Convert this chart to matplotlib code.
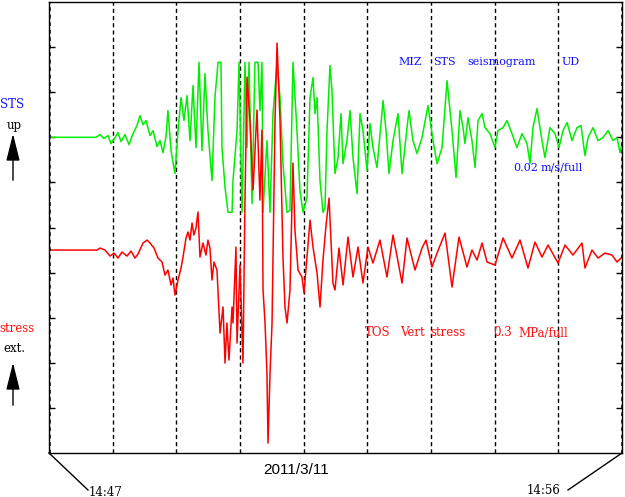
import matplotlib
matplotlib.use("Agg")
import matplotlib.pyplot as plt
import numpy as np
from matplotlib.lines import Line2D

# ---- data ----
# MIZ STS seismogram UD: time in s after 14:47, velocity in mm/s (clipped at +/-10)
sts_t = [0, 44.3, 48.1, 51.8, 55.6, 58.4, 62.2, 65.0, 67.9, 71.6, 75.4, 79.2, 82.9, 85.8, 88.6,
         91.4, 95.2, 98.0, 101.8, 104.6, 107.4, 110.3, 112.1, 115.0, 118.7, 121.6, 124.4, 127.2,
         130.1, 132.9, 135.7, 138.5, 141.4, 144.2, 147.0, 149.8, 153.6, 156.4, 159.3, 162.1,
         163.0, 165.9, 168.7, 172.5, 173.4, 177.2, 179.1, 181.9, 184.7, 186.6, 188.5, 191.3,
         194.1, 197.0, 198.8, 200.7, 201.7, 205.4, 208.3, 211.1, 214.9, 217.7, 220.5, 224.3,
         227.1, 229.9, 233.7, 236.5, 239.4, 243.1, 246.0, 248.8, 250.7, 252.6, 255.4, 258.2,
         260.1, 262.0, 264.8, 266.7, 269.5, 272.4, 275.2, 277.1, 280.8, 283.7, 286.5, 290.3,
         293.1, 295.9, 299.7, 302.5, 305.3, 309.1, 314.8, 317.6, 320.4, 324.2, 328.9, 332.7,
         337.4, 339.3, 343.0, 346.8, 351.5, 357.2, 361.9, 365.7, 370.4, 375.1, 379.8, 383.6,
         387.3, 390.2, 392.0, 394.9, 398.6, 401.5, 404.3, 408.1, 410.9, 415.6, 420.3, 423.1,
         427.9, 431.6, 436.3, 441.0, 445.8, 450.5, 453.3, 456.1, 459.9, 464.6, 467.4, 472.1,
         476.9, 480.6, 484.4, 488.2, 492.9, 497.6, 501.4, 505.1, 508.0, 512.7, 517.4, 522.1,
         526.8, 531.5, 535.3, 538.1, 540.0]
sts_v = [0, 0, 0.36, -0.17, 0.23, -0.84, -0.04, 0.63, -0.57, 0.36, -0.97, 0.49, 1.56, 2.89, 1.69,
         2.23, 0.23, 0.89, -1.24, -0.44, -2.04, 0.09, 3.56, -1.77, -4.84, 0.89, 5.29, 2.23,
         5.56, -0.44, 6.89, -1.37, 10, -1.77, 8.49, 0.89, -5.77, 5.29, 10, 10,
         -1.37, -6.69, -10, -10, -5.77, 0.89, 10, -10, 10, -1.37, 10, -8.84,
         10, 10, 3.56, 10, -10, -0.44, -10, 3.16, 9.83, 5.29, -3.51, -10,
         -9.77, 10, 0.89, -7.11, -10, -8.04, 5.29, 7.96, 3.16, 5.29, -5.77, -10,
         -9.4, 0.89, 9.56, 6.23, -4.84, -2.71, 3.16, -3.51, -0.44, 3.56, -2.71, -7.51,
         3.16, 0.89, -4.44, 1.83, -1.37, -4.04, 4.89, 0.89, -4.84, -0.44, 3.16, -4.84,
         1.29, 3.56, -0.44, -2.17, -0.04, 4.23, -0.44, -3.51, -1.37, 7.56, 0.89, -5.37,
         3.56, 1.29, -0.84, 2.63, -0.44, -4.04, 2.23, 3.16, 1.29, 0.49, -1.37, 0.89,
         1.29, 2.23, 0.49, -1.37, 0.49, -0.84, -3.51, 1.29, 3.83, -0.44, -2.71, 1.29,
         0.49, -1.37, 0.89, 1.96, -0.44, 1.29, 1.56, -2.44, -0.04, 1.29, -0.44, -0.04,
         0.89, -0.44, -0.04, -2.04, -0.84]

# TOS vertical stress: time in s after 14:47, stress change in kPa (extension positive)
tos_t = [0, 45.2, 48.1, 52.8, 57.5, 61.3, 65.0, 68.8, 73.5, 77.3, 81.0, 83.9, 88.6, 92.4, 95.2,
         99.0, 102.7, 106.5, 109.3, 112.1, 115.0, 116.9, 118.7, 121.6, 124.4, 126.3, 129.1,
         131.0, 132.9, 134.8, 136.6, 138.5, 140.4, 142.3, 145.1, 147.9, 149.8, 151.7, 153.6,
         155.5, 158.3, 161.2, 164.0, 165.9, 167.7, 169.6, 172.5, 173.4, 176.2, 177.2, 180.0,
         182.8, 184.7, 186.6, 189.4, 192.3, 196.0, 198.8, 200.7, 201.7, 203.6, 205.4, 206.4,
         208.3, 210.2, 211.1, 213.0, 214.9, 217.7, 220.5, 222.4, 224.3, 227.1, 229.9, 231.8,
         234.7, 238.4, 240.3, 243.1, 246.0, 248.8, 252.6, 255.4, 258.2, 261.1, 263.9, 267.6,
         269.5, 273.3, 277.1, 281.8, 286.5, 291.2, 295.9, 300.6, 305.3, 311.9, 318.5, 324.2,
         332.7, 337.4, 344.9, 351.5, 355.3, 360.9, 365.7, 373.2, 379.8, 386.4, 393.9, 398.6,
         403.4, 408.1, 412.8, 420.3, 427.9, 436.3, 443.9, 451.4, 458.0, 464.6, 470.3, 479.7,
         486.3, 493.8, 502.3, 505.1, 511.7, 517.4, 524.0, 530.6, 535.3, 540.0]
tos_s = [0, 0, 4, 0, -12, -6, -16, -4, -12, -2, -16, -8, 14, 20, 14,
         4, -16, -24, -50, -40, -70, -56, -90, -60, -36, -14, 24,
         36, 20, 54, 30, 44, 76, -14, 14, -10, 20, 4, -60,
         -24, -40, -166, -114, -226, -146, -220, -114, -146, 6, -186, -30,
         -226, 100, 346, 260, 120, 280, 100, 240, -80, -146, -246, -386,
         -246, -146, -14, 260, 414, 260, -14, -114, -146, -80, 174, 40,
         -40, -54, -86, -14, 60, 6, -46, -114, -20, 50, 104, -66,
         -80, 4, -70, 26, -54, 6, -66, 6, -26, 20, -54, 30,
         -66, 24, -40, 4, 20, -34, -6, 34, -74, 26, -34, 0,
         -20, 14, -24, -30, 24, -16, 20, -36, 16, -14, 10, -26,
         10, -10, 14, -36, 0, -16, -6, -10, -24, -14]

minute_marks = [60, 120, 180, 240, 300, 360, 420, 480]
start_label = "14:47"
end_label = "14:56"
date_label = "2011/3/11"

# ---- figure ----
W, H = 625, 497
fig = plt.figure(figsize=(W / 100, H / 100), dpi=100)
fig.patch.set_facecolor("white")

def fp(x, y):
    return (x / W, 1 - y / H)

ax = fig.add_axes([49 / W, 44 / H, 573 / W, 451 / H])
ax.set_xlim(0, 540)
ax.set_ylim(0, 10)

sts_base, sts_scale = 7.0, 7.5 / 45.1      # divisions per mm/s
tos_base, tos_scale = 4.5, 1 / 90.2        # divisions per kPa

for m in minute_marks:
    ax.axvline(m, color="black", lw=1.0, ls=(0, (3, 2.2)), zorder=1)

ax.plot(sts_t, sts_base + np.array(sts_v) * sts_scale, color="#00ee00", lw=1.1, zorder=3)
ax.plot(tos_t, tos_base + np.array(tos_s) * tos_scale, color="#ff0000", lw=1.1, zorder=4)

ax.axvline(0, color="black", lw=1.8, ls=(0, (1.5, 1.5)), zorder=5)
ax.axvline(540, color="black", lw=1.8, ls=(0, (1.5, 1.5)), zorder=5)

ax.set_xticks([])
ax.set_yticks(range(1, 10))
ax.tick_params(axis="y", direction="in", left=True, right=True, length=4, width=1,
               labelleft=False)
for s in ax.spines.values():
    s.set_linewidth(1.0)
    s.set_color("black")

serif = "DejaVu Serif"
blue = "#1010ff"
red = "#ff1010"

# in-plot labels (figure pixel positions)
def put(txt, x, y, color, size=8, ha="left", family=serif):
    fig.text(*fp(x, y), txt, color=color, fontsize=size, ha=ha, va="center", family=family)

put("MIZ", 398, 62, blue)
put("STS", 433, 62, blue)
put("seismogram", 467, 62, blue)
put("UD", 562, 62, blue)
put("0.02", 513, 168, blue)
put("m/s/full", 541, 168, blue)

put("TOS", 365, 333, red, size=8.5)
put("Vert", 400, 333, red, size=8.5)
put("stress", 430, 333, red, size=8.5)
put("0.3", 493, 333, red, size=8.5)
put("MPa/full", 518, 333, red, size=8.5)

# left side labels
put("STS", 0, 105, blue, size=8.5)
put("up", 7, 126, "black", size=8.5)
put("stress", -1, 329, red, size=8.5)
put("ext.", 3, 349, "black", size=8.5)

for tip, base in [((13, 131), (13, 183)), ((13, 360), (13, 408))]:
    fig.add_artist(matplotlib.patches.FancyArrowPatch(
        fp(*base), fp(*tip), transform=fig.transFigure,
        arrowstyle="-|>,head_length=1.4,head_width=0.35", mutation_scale=12,
        color="black", lw=1.0))

# bottom labels
fig.text(*fp(296, 470), date_label, fontsize=11, ha="center", va="center",
         family="Liberation Sans")
put(start_label, 89, 492, "black", size=8.5)
put(end_label, 527, 490, "black", size=8.5)
fig.add_artist(Line2D([49 / W, 88 / W], [1 - 453 / H, 1 - 490 / H], color="black", lw=1))
fig.add_artist(Line2D([622 / W, 568 / W], [1 - 453 / H, 1 - 490 / H], color="black", lw=1))

fig.savefig("out.png", dpi=100)
